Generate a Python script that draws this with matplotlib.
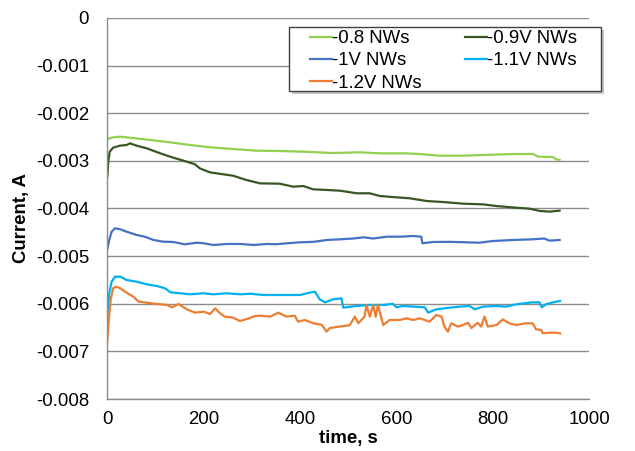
"""
Corrente vs. tempo para nanofios (NWs) depositados a diferentes potenciais.
"""

import matplotlib
matplotlib.use("Agg")
import matplotlib.pyplot as plt
from matplotlib.patches import Rectangle
from matplotlib.ticker import FixedLocator, FuncFormatter

plt.rcParams["font.family"] = ["Liberation Sans", "DejaVu Sans"]

FS = 13.4

# ---- dados (tempo em s, corrente em A) ----
t_08 = [0, 12, 26, 47, 89, 130, 172, 213, 261, 310, 358, 407, 469, 524, 566,
        621, 656, 690, 739, 780, 842, 884, 894, 925, 932, 939]
i_08 = [-0.002541, -0.002506, -0.002492, -0.002513, -0.002562, -0.002610,
        -0.002667, -0.002715, -0.002751, -0.002786, -0.002793, -0.002807,
        -0.002835, -0.002820, -0.002842, -0.002842, -0.002862, -0.002891,
        -0.002891, -0.002877, -0.002856, -0.002856, -0.002912, -0.002919,
        -0.002967, -0.002982]

t_09 = [0, 2, 5, 12, 26, 40, 47, 61, 82, 110, 137, 165, 182, 192, 213, 241,
        261, 289, 317, 358, 386, 407, 427, 469, 483, 518, 545, 566, 600, 628,
        663, 697, 739, 780, 808, 849, 877, 898, 919, 939]
i_09 = [-0.003332, -0.003017, -0.002807, -0.002723, -0.002681, -0.002667,
        -0.002632, -0.002681, -0.002737, -0.002842, -0.002933, -0.003017,
        -0.003072, -0.003157, -0.003241, -0.003282, -0.003311, -0.003402,
        -0.003472, -0.003479, -0.003542, -0.003528, -0.003597, -0.003618,
        -0.003626, -0.003681, -0.003681, -0.003738, -0.003765, -0.003786,
        -0.003843, -0.003864, -0.003899, -0.003913, -0.003948, -0.003983,
        -0.004004, -0.004052, -0.004066, -0.004045]

t_10 = [0, 4, 9, 16, 27, 40, 61, 78, 96, 116, 137, 161, 186, 200, 220, 248,
        276, 304, 331, 352, 373, 400, 428, 456, 483, 511, 532, 552, 580, 608,
        635, 652, 654, 676, 711, 745, 773, 800, 842, 883, 907, 918, 939]
i_10 = [-0.004857, -0.004661, -0.004487, -0.004416, -0.004437, -0.004487,
        -0.004556, -0.004592, -0.004661, -0.004697, -0.004703, -0.004752,
        -0.004718, -0.004730, -0.004766, -0.004745, -0.004745, -0.004766,
        -0.004745, -0.004750, -0.004730, -0.004710, -0.004700, -0.004661,
        -0.004647, -0.004630, -0.004605, -0.004630, -0.004592, -0.004592,
        -0.004577, -0.004592, -0.004731, -0.004703, -0.004700, -0.004710,
        -0.004718, -0.004683, -0.004661, -0.004647, -0.004630, -0.004675,
        -0.004661]

t_11 = [0, 4, 9, 16, 27, 40, 61, 82, 103, 120, 131, 151, 172, 200, 220, 248,
        276, 297, 324, 365, 400, 420, 431, 441, 452, 469, 486, 490, 517, 545,
        573, 593, 600, 614, 635, 659, 666, 683, 711, 732, 752, 763, 780, 808,
        828, 849, 883, 897, 902, 911, 925, 940]
i_11 = [-0.006271, -0.005780, -0.005537, -0.005432, -0.005432, -0.005501,
        -0.005537, -0.005592, -0.005627, -0.005676, -0.005760, -0.005780,
        -0.005802, -0.005780, -0.005802, -0.005780, -0.005802, -0.005790,
        -0.005816, -0.005816, -0.005816, -0.005767, -0.005746, -0.005907,
        -0.005970, -0.005907, -0.005886, -0.006083, -0.006047, -0.006026,
        -0.006026, -0.006000, -0.006075, -0.006047, -0.006060, -0.006075,
        -0.006187, -0.006117, -0.006083, -0.006060, -0.006047, -0.006117,
        -0.006060, -0.006047, -0.006060, -0.006012, -0.005970, -0.005970,
        -0.006075, -0.006010, -0.005970, -0.005942]

t_12 = [0, 3, 7, 12, 18, 27, 40, 54, 65, 82, 103, 124, 134, 148, 165, 182,
        200, 213, 224, 234, 244, 261, 275, 293, 306, 317, 338, 355, 372, 389,
        396, 410, 428, 445, 455, 462, 482, 503, 514, 521, 534, 538, 545, 552,
        557, 562, 569, 573, 586, 607, 621, 635, 649, 659, 669, 683, 694, 700,
        707, 714, 728, 738, 749, 756, 769, 776, 783, 790, 808, 821, 835, 849,
        869, 883, 890, 901, 904, 918, 932, 940]
i_12 = [-0.006797, -0.006341, -0.005921, -0.005676, -0.005642, -0.005676,
        -0.005767, -0.005852, -0.005956, -0.005977, -0.006005, -0.006026,
        -0.006075, -0.006005, -0.006117, -0.006187, -0.006166, -0.006215,
        -0.006096, -0.006200, -0.006271, -0.006290, -0.006362, -0.006310,
        -0.006260, -0.006250, -0.006271, -0.006187, -0.006271, -0.006250,
        -0.006376, -0.006341, -0.006411, -0.006440, -0.006586, -0.006510,
        -0.006480, -0.006450, -0.006271, -0.006410, -0.006271, -0.006026,
        -0.006271, -0.006026, -0.006271, -0.006026, -0.006306, -0.006446,
        -0.006341, -0.006341, -0.006306, -0.006341, -0.006306, -0.006341,
        -0.006376, -0.006236, -0.006271, -0.006481, -0.006586, -0.006411,
        -0.006480, -0.006446, -0.006400, -0.006510, -0.006400, -0.006480,
        -0.006271, -0.006480, -0.006446, -0.006330, -0.006411, -0.006446,
        -0.006411, -0.006411, -0.006537, -0.006550, -0.006621, -0.006607,
        -0.006607, -0.006621]

SERIES = [
    ("-0.8 NWs",   t_08, i_08, "#92D050"),
    ("-0.9V NWs",  t_09, i_09, "#375623"),
    ("-1V NWs",    t_10, i_10, "#4472C4"),
    ("-1.1V NWs",  t_11, i_11, "#00B0F0"),
    ("-1.2V NWs",  t_12, i_12, "#ED7D31"),
]

X_TICKS = [0, 200, 400, 600, 800, 1000]
Y_TICKS = [0, -0.001, -0.002, -0.003, -0.004, -0.005, -0.006, -0.007, -0.008]

GRID = "#8C8C8C"

fig = plt.figure(figsize=(6.35, 4.51), dpi=100)
ax = fig.add_axes([107.3 / 635, 1 - 399 / 451, 481.7 / 635, 381 / 451])

linhas = {}
for nome, t, i, cor in SERIES:
    (ln,) = ax.plot(t, i, color=cor, linewidth=1.6, label=nome)
    linhas[nome] = ln

ax.set_xlim(0, 1000)
ax.set_ylim(-0.008, 0)
ax.xaxis.set_major_locator(FixedLocator(X_TICKS))
ax.yaxis.set_major_locator(FixedLocator(Y_TICKS))
ax.yaxis.set_major_formatter(FuncFormatter(lambda v, _: f"{v:g}"))
ax.xaxis.set_major_formatter(FuncFormatter(lambda v, _: f"{v:g}"))
ax.tick_params(axis="both", length=0, labelsize=FS)
ax.tick_params(axis="y", pad=13)
ax.tick_params(axis="x", pad=9)

ax.grid(axis="y", color=GRID, linewidth=1)
ax.set_axisbelow(True)
for lado in ("top", "right"):
    ax.spines[lado].set_visible(False)
for lado in ("left", "bottom"):
    ax.spines[lado].set_color(GRID)
    ax.spines[lado].set_linewidth(1)

ax.set_xlabel("time, s", fontsize=FS, fontweight="bold", labelpad=1)
ax.set_ylabel("Current, A", fontsize=FS, fontweight="bold")
ax.yaxis.set_label_coords(-0.160, 0.476)

# caixa da legenda com sombra
x0, y0, w, h = 289, 27, 312, 64
sombra = Rectangle(((x0 + 3) / 635, 1 - (y0 + h + 3) / 451), w / 635, h / 451,
                   transform=fig.transFigure, facecolor="#A0A0A0",
                   edgecolor="none", alpha=0.6, zorder=5)
caixa = Rectangle((x0 / 635, 1 - (y0 + h) / 451), w / 635, h / 451,
                  transform=fig.transFigure, facecolor="white",
                  edgecolor="#404040", linewidth=1, zorder=6)
fig.add_artist(sombra)
fig.add_artist(caixa)

ordem = ["-0.8 NWs", "-1V NWs", "-1.2V NWs", "-0.9V NWs", "-1.1V NWs"]
leg = fig.legend([linhas[n] for n in ordem], ordem, ncol=2,
                 loc="upper left", bbox_to_anchor=(310 / 635, 1 - 30 / 451),
                 frameon=False, fontsize=FS, handlelength=1.2,
                 handletextpad=0.0, columnspacing=2.3, labelspacing=0.28,
                 borderpad=0, borderaxespad=0)
leg.set_zorder(7)

fig.savefig("out.png", dpi=100)
plt.close(fig)
